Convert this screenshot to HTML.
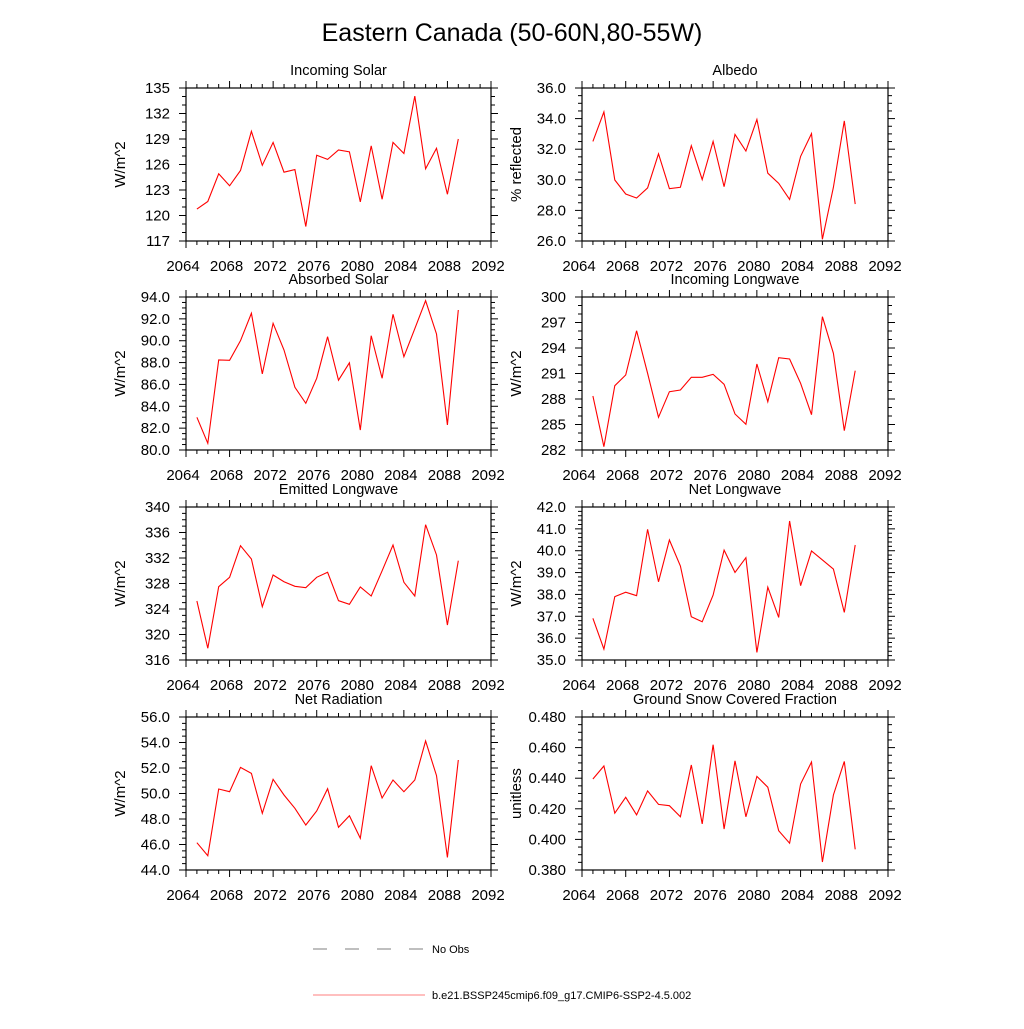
<!DOCTYPE html>
<html><head><meta charset="utf-8"><style>
body{margin:0;background:#fff;width:1024px;height:1024px;overflow:hidden}
svg{font-family:"Liberation Sans",sans-serif}
</style></head><body>
<svg id="c" width="1024" height="1024" xmlns="http://www.w3.org/2000/svg">
<text x="512" y="41" font-size="25" text-anchor="middle">Eastern Canada (50-60N,80-55W)</text>
<g>
<line x1="313" y1="949" x2="425" y2="949" stroke="#000" stroke-width="0.6" stroke-dasharray="14,18"/>
<text x="432" y="953" font-size="11">No Obs</text>
<line x1="313" y1="995" x2="425" y2="995" stroke="#f00" stroke-width="0.6"/>
<text x="432" y="999" font-size="11">b.e21.BSSP245cmip6.f09_g17.CMIP6-SSP2-4.5.002</text>
</g>
</svg>
<script>
const years=[2065,2066,2067,2068,2069,2070,2071,2072,2073,2074,2075,2076,2077,2078,2079,2080,2081,2082,2083,2084,2085,2086,2087,2088,2089];
const xTicks=[2064,2068,2072,2076,2080,2084,2088,2092];
const incomingSolar=[120.75,121.65,124.9,123.5,125.3,129.9,125.9,128.6,125.1,125.4,118.7,127.1,126.6,127.7,127.5,121.6,128.2,121.9,128.6,127.3,134.05,125.5,127.9,122.5,129.0];
const albedo=[32.51,34.44,29.99,29.07,28.81,29.47,31.70,29.42,29.51,32.23,30.01,32.51,29.55,32.97,31.88,33.94,30.43,29.77,28.72,31.53,33.02,26.11,29.51,33.85,28.41];
const absorbedSolar=[82.99,80.61,88.24,88.21,90.0,92.51,86.96,91.59,89.15,85.74,84.27,86.56,90.37,86.39,87.98,81.83,90.46,86.56,92.42,88.54,91.1,93.66,90.61,82.3,92.81];
const incomingLW=[288.35,282.39,289.56,290.82,296.04,291.02,285.85,288.86,289.06,290.55,290.55,290.91,289.73,286.24,285.02,292.12,287.68,292.86,292.71,289.85,286.15,297.68,293.38,284.27,291.33];
const emittedLW=[325.25,317.84,327.5,328.97,333.93,331.84,324.36,329.33,328.28,327.56,327.34,328.97,329.75,325.3,324.74,327.45,326.04,330.0,334.04,328.19,326.04,337.22,332.47,321.49,331.58];
const netLW=[36.91,35.50,37.90,38.10,37.94,40.98,38.58,40.49,39.30,36.98,36.75,37.97,40.03,39.01,39.68,35.35,38.33,36.95,41.36,38.40,39.99,39.58,39.16,37.18,40.26];
const netRad=[46.14,45.12,50.35,50.14,52.05,51.58,48.45,51.11,49.88,48.84,47.53,48.63,50.38,47.35,48.26,46.49,52.18,49.65,51.06,50.14,51.06,54.12,51.40,44.99,52.63];
const snowFrac=[0.4395,0.448,0.4171,0.4275,0.416,0.4317,0.4229,0.4220,0.4148,0.4486,0.4101,0.4619,0.4068,0.4514,0.4148,0.4412,0.4341,0.4057,0.3975,0.4362,0.4506,0.3852,0.4290,0.4510,0.3935];
const ticks1=["117","120","123","126","129","132","135"];
const ticks2=["26.0","28.0","30.0","32.0","34.0","36.0"];
const ticks3=["80.0","82.0","84.0","86.0","88.0","90.0","92.0","94.0"];
const ticks4=["282","285","288","291","294","297","300"];
const ticks5=["316","320","324","328","332","336","340"];
const ticks6=["35.0","36.0","37.0","38.0","39.0","40.0","41.0","42.0"];
const ticks7=["44.0","46.0","48.0","50.0","52.0","54.0","56.0"];
const ticks8=["0.380","0.400","0.420","0.440","0.460","0.480"];

const panels=[
 {name:"incoming-solar",title:"Incoming Solar",yt:"W/m^2",d:incomingSolar,t:ticks1,minor:1,col:0,row:0},
 {name:"albedo",title:"Albedo",yt:"% reflected",d:albedo,t:ticks2,minor:0.5,col:1,row:0},
 {name:"absorbed-solar",title:"Absorbed Solar",yt:"W/m^2",d:absorbedSolar,t:ticks3,minor:0.5,col:0,row:1},
 {name:"incoming-longwave",title:"Incoming Longwave",yt:"W/m^2",d:incomingLW,t:ticks4,minor:1,col:1,row:1},
 {name:"emitted-longwave",title:"Emitted Longwave",yt:"W/m^2",d:emittedLW,t:ticks5,minor:1,col:0,row:2},
 {name:"net-longwave",title:"Net Longwave",yt:"W/m^2",d:netLW,t:ticks6,minor:0.2,col:1,row:2},
 {name:"net-radiation",title:"Net Radiation",yt:"W/m^2",d:netRad,t:ticks7,minor:0.5,col:0,row:3},
 {name:"ground-snow-fraction",title:"Ground Snow Covered Fraction",yt:"unitless",d:snowFrac,t:ticks8,minor:0.005,col:1,row:3}
];
const NS="http://www.w3.org/2000/svg";
const svg=document.getElementById('c');
function mk(tag,attrs,parent){const e=document.createElementNS(NS,tag);for(const k in attrs)e.setAttribute(k,attrs[k]);parent.appendChild(e);return e;}
panels.forEach(p=>{
 const L=p.col?582:186, R=p.col?888:491, T=[88,297,507,717][p.row], B=T+153;
 const g=mk('g',{},svg);
 
 
 const ymin=parseFloat(p.t[0]), ymax=parseFloat(p.t[p.t.length-1]);
 const X=v=>L+(v-2064)/28*(R-L);
 const Y=v=>B-(v-ymin)/(ymax-ymin)*(B-T);
 const fr=mk('rect',{x:L,y:T,width:R-L,height:B-T,fill:'none',stroke:'#000','stroke-width':1.2},g);
 
 
 for(let yr=2064;yr<=2092;yr++){
  const maj=(yr%4===0), len=maj?7:4, x=X(yr);
  mk('line',{x1:x,y1:B,x2:x,y2:B+len,stroke:'#000','stroke-width':1},g);
  mk('line',{x1:x,y1:T,x2:x,y2:T-len,stroke:'#000','stroke-width':1},g);
 }
 xTicks.forEach(v=>{const t=mk('text',{x:X(v)-3,y:B+30,'font-size':15,'text-anchor':'middle'},g);t.textContent=v;
  
  });
 const n=Math.round((ymax-ymin)/p.minor);
 const majStep=(ymax-ymin)/(p.t.length-1);
 for(let i=0;i<=n;i++){
  const v=ymin+i*p.minor, y=Y(v);
  const r=(v-ymin)/majStep, maj=Math.abs(r-Math.round(r))<1e-6, len=maj?7:4;
  mk('line',{x1:L,y1:y,x2:L-len,y2:y,stroke:'#000','stroke-width':1},g);
  mk('line',{x1:R,y1:y,x2:R+len,y2:y,stroke:'#000','stroke-width':1},g);
 }
 p.t.forEach(s=>{const t=mk('text',{x:L-16,y:Y(parseFloat(s))+5,'font-size':15,'text-anchor':'end'},g);t.textContent=s;
  
  });
 const tt=mk('text',{x:(L+R)/2,y:T-13,'font-size':14.5,'text-anchor':'middle'},g);tt.textContent=p.title;
 
 
 const yx=L-61, ym=(T+B)/2;
 const yt=mk('text',{x:yx,y:ym,'font-size':15,'text-anchor':'middle',transform:`rotate(-90 ${yx} ${ym})`},g);yt.textContent=p.yt;
 
 
 const pts=p.d.map((v,i)=>X(years[i]).toFixed(1)+','+Y(v).toFixed(1)).join(' ');
 const pl=mk('polyline',{points:pts,fill:'none',stroke:'#f00','stroke-width':1.1},g);
 
 
});
</script>
</body></html>
